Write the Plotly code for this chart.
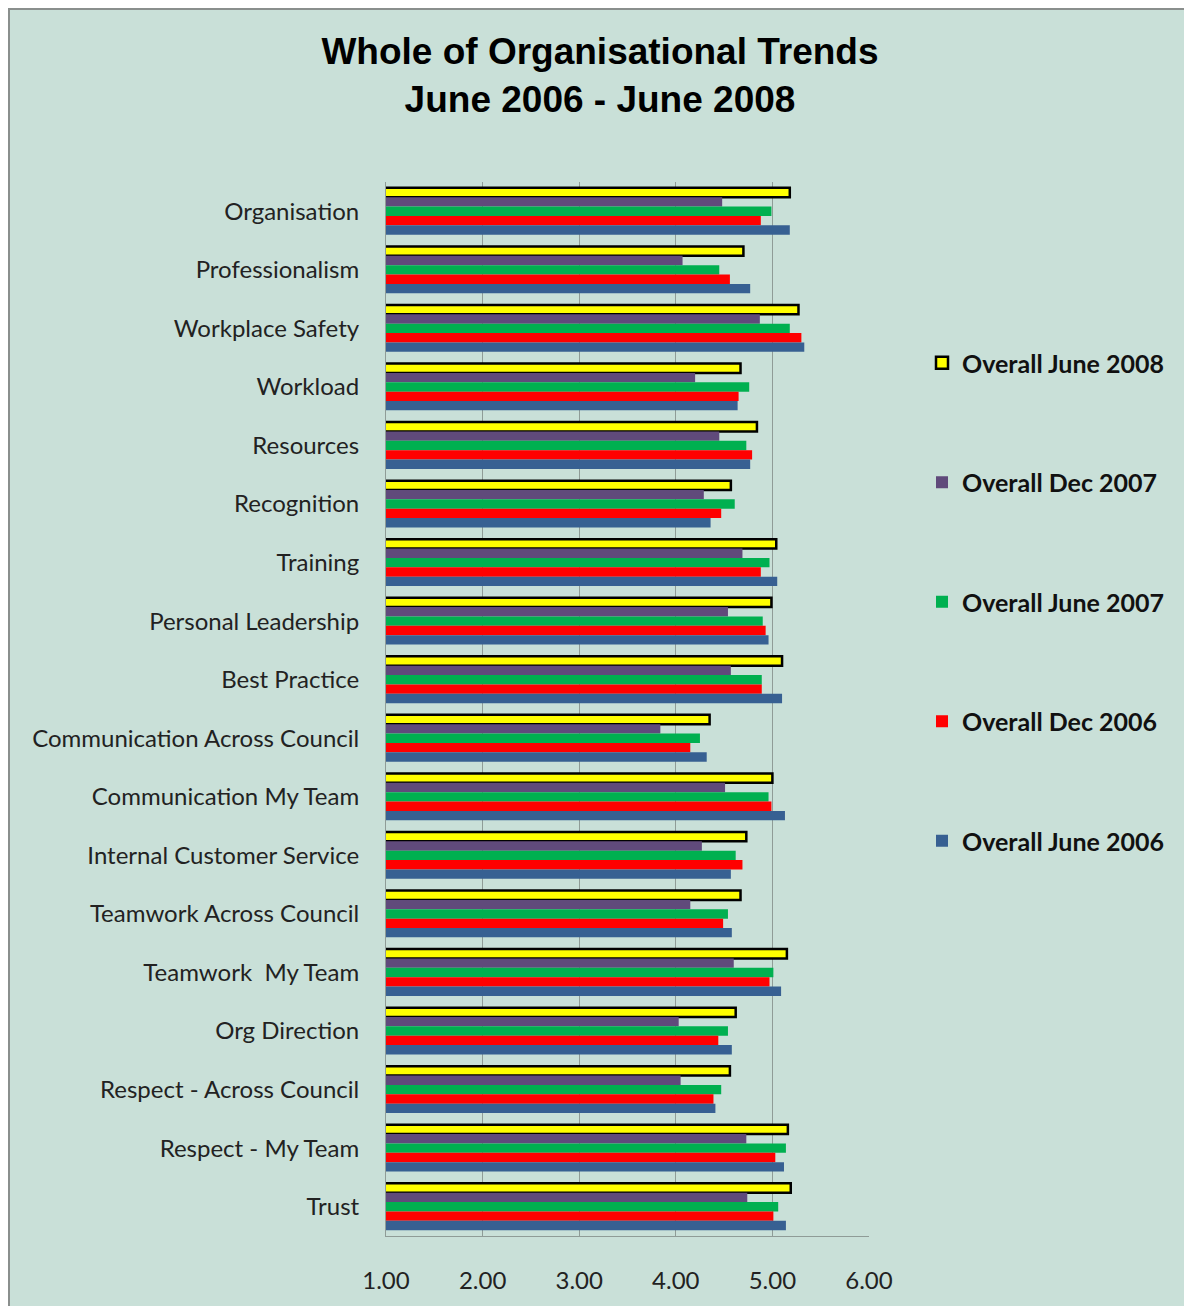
import plotly.graph_objects as go

categories = [
    "Organisation", "Professionalism", "Workplace Safety", "Workload",
    "Resources", "Recognition", "Training", "Personal Leadership",
    "Best Practice", "Communication Across Council", "Communication My Team",
    "Internal Customer Service", "Teamwork Across Council",
    "Teamwork\u00a0 My Team", "Org Direction", "Respect - Across Council",
    "Respect - My Team", "Trust",
]

june_2008 = [5.18, 4.70, 5.27, 4.67, 4.84, 4.57, 5.04, 4.99, 5.10, 4.35,
             5.00, 4.73, 4.67, 5.15, 4.62, 4.56, 5.16, 5.19]
dec_2007 = [4.48, 4.07, 4.87, 4.20, 4.45, 4.29, 4.69, 4.54, 4.57, 3.84,
            4.51, 4.27, 4.15, 4.60, 4.03, 4.05, 4.73, 4.74]
june_2007 = [4.99, 4.45, 5.18, 4.76, 4.73, 4.61, 4.97, 4.90, 4.89, 4.25,
             4.96, 4.62, 4.54, 5.01, 4.54, 4.47, 5.14, 5.06]
dec_2006 = [4.88, 4.56, 5.30, 4.65, 4.79, 4.47, 4.88, 4.93, 4.89, 4.15,
            4.99, 4.69, 4.49, 4.97, 4.44, 4.39, 5.03, 5.01]
june_2006 = [5.18, 4.77, 5.33, 4.64, 4.77, 4.36, 5.05, 4.96, 5.10, 4.32,
             5.13, 4.57, 4.58, 5.09, 4.58, 4.41, 5.12, 5.14]

series = [
    ("Overall June 2008", june_2008, "#ffff00", 2.5),
    ("Overall Dec 2007", dec_2007, "#604a7b", 0),
    ("Overall June 2007", june_2007, "#00b050", 0),
    ("Overall Dec 2006", dec_2006, "#ff0000", 0),
    ("Overall June 2006", june_2006, "#376092", 0),
]

x_ticks = [1, 2, 3, 4, 5, 6]

BG = "#c9e0d8"
W, H = 1184, 1298          # page body adds an 8px margin
L, R, T, B = 378, 323, 174, 70
PW, PH = W - L - R, H - T - B

fig = go.Figure()
for name, vals, color, lw in series:
    fig.add_trace(go.Bar(
        y=categories, x=vals, name=name, orientation="h",
        legendgroup=name,
        marker=dict(color=color, line=dict(color="black", width=lw)),
    ))

fig.update_layout(
    width=W, height=H,
    margin=dict(l=L, r=R, t=T, b=B),
    barmode="group", bargap=0.2, bargroupgap=0,
    paper_bgcolor=BG, plot_bgcolor=BG,
    title=dict(
        text="Whole of Organisational Trends<br>June 2006 - June 2008",
        x=0.5, xanchor="center", y=1 - 56 / H, yanchor="top",
        font=dict(family="Liberation Sans", size=37, color="black",
                  weight="bold"),
    ),
    legend=dict(
        x=(914 - L) / PW, y=(H - B - 332) / PH, xanchor="left", yanchor="top",
        font=dict(family="Lato", size=25, color="#111111", weight="bold"),
        tracegroupgap=84, bgcolor="rgba(0,0,0,0)",
    ),
    showlegend=True,
    shapes=[dict(
        type="rect", xref="paper", yref="paper", layer="below",
        x0=(1 - L) / PW, x1=(W + 50 - L) / PW,
        y0=-(B + 50) / PH, y1=(H - B - 1) / PH,
        fillcolor=BG, line=dict(color="#8a8f8d", width=2),
    )],
)

fig.update_xaxes(
    range=[1, 6], tickvals=x_ticks, tickformat=".2f",
    showgrid=True, gridcolor="#8f9c97", gridwidth=1,
    showline=True, linecolor="#8f9c97", linewidth=1,
    zeroline=False, ticks="", ticklabelstandoff=23,
    tickfont=dict(family="Lato", size=24, color="#222222"),
)
fig.update_yaxes(
    autorange="reversed", showgrid=False,
    showline=True, linecolor="#8f9c97", linewidth=1,
    ticks="", ticklabelstandoff=21,
    tickfont=dict(family="Lato", size=24, color="#222222"),
)

fig.write_html("out.html")
